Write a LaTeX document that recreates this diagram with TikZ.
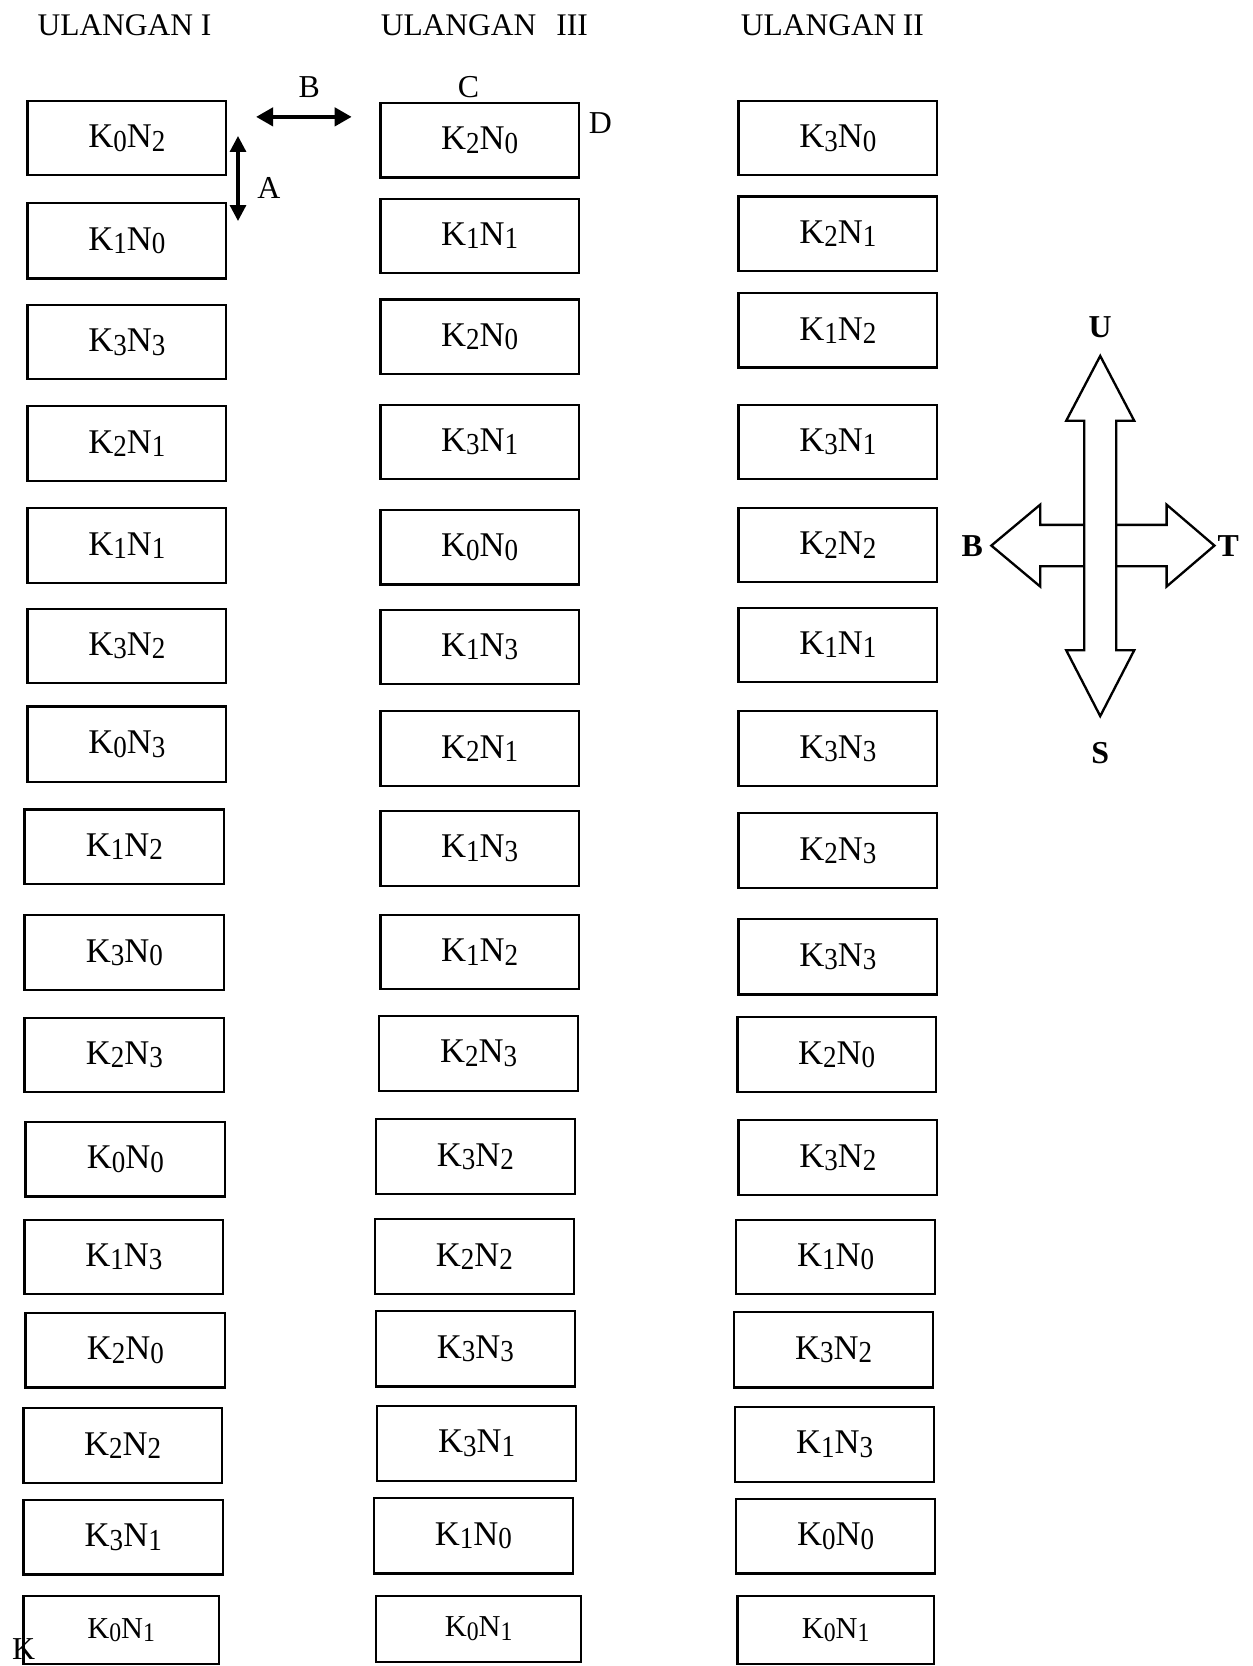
\documentclass[tikz,border=0pt]{standalone}
\usepackage{fontspec}
\setmainfont{Liberation Serif}
\usetikzlibrary{arrows.meta}
\newcommand\sbs[1]{\raisebox{-1.6pt}{\scalebox{0.78}[0.88]{#1}}}
\newcommand\kn[2]{K\sbs{#1}N\sbs{#2}}
\newcommand\cell[7][]{\node[cellbox,#1, minimum width={(#4-#3)*0.5pt}, minimum height={(#6-#5)*0.5pt}] (#2) at ({(#3+#4)/2},{(#5+#6)/2}) {#7};}
\begin{document}
\begin{tikzpicture}[x=0.5pt,y=-0.5pt,
  cellbox/.style={draw, line width=1.1pt, inner sep=0pt, font=\fontsize{16.3}{19}\selectfont},
  small/.style={font=\fontsize{14.3}{17}\selectfont},
  head/.style={anchor=base west, inner sep=0pt, font=\fontsize{14.8}{18}\selectfont},
  lbl/.style={inner sep=0pt, font=\fontsize{15}{18}\selectfont},
  dir/.style={inner sep=0pt, font=\fontsize{15}{18}\selectfont\bfseries},
  compass/.style={line width=1.1pt, line join=miter}]
\useasboundingbox (0,0) rectangle (1179,1568);
% headers
\node[head] (h1) at (35,33) {ULANGAN I};
\node[head] (h3) at (358,33) {ULANGAN\hspace{9.5pt}III};
\node[head] (h2) at (697,33) {ULANGAN\hspace{3pt}II};
% column 1
\cell{a1}{26}{213}{95}{165}{\kn02}
\cell{a2}{26}{213}{191}{262}{\kn10}
\cell{a3}{26}{213}{287}{357}{\kn33}
\cell{a4}{26}{213}{382}{453}{\kn21}
\cell{a5}{26}{213}{478}{549}{\kn11}
\cell{a6}{26}{213}{573}{643}{\kn32}
\cell{a7}{26}{213}{665}{736}{\kn03}
\cell{a8}{23}{211}{762}{832}{\kn12}
\cell{a9}{23}{211}{861}{932}{\kn30}
\cell{a10}{23}{211}{958}{1028}{\kn23}
\cell{a11}{24}{212}{1056}{1126}{\kn00}
\cell{a12}{23}{210}{1148}{1218}{\kn13}
\cell{a13}{24}{212}{1236}{1306}{\kn20}
\cell{a14}{22}{209}{1325}{1396}{\kn22}
\cell{a15}{22}{210}{1412}{1482}{\kn31}
\cell[small]{a16}{22}{206}{1502}{1566}{\kn01}
% column 2
\cell{b1}{358}{545}{97}{167}{\kn20}
\cell{b2}{358}{545}{187}{257}{\kn11}
\cell{b3}{358}{545}{282}{352}{\kn20}
\cell{b4}{358}{545}{381}{451}{\kn31}
\cell{b5}{358}{545}{480}{550}{\kn00}
\cell{b6}{358}{545}{574}{644}{\kn13}
\cell{b7}{358}{545}{669}{740}{\kn21}
\cell{b8}{358}{545}{763}{834}{\kn13}
\cell{b9}{358}{545}{861}{931}{\kn12}
\cell{b10}{357}{544}{956}{1027}{\kn23}
\cell{b11}{354}{541}{1053}{1124}{\kn32}
\cell{b12}{353}{540}{1147}{1218}{\kn22}
\cell{b13}{354}{541}{1234}{1305}{\kn33}
\cell{b14}{355}{542}{1323}{1394}{\kn31}
\cell{b15}{352}{539}{1410}{1481}{\kn10}
\cell[small]{b16}{354}{547}{1502}{1564}{\kn01}
% column 3
\cell{c1}{695}{882}{95}{165}{\kn30}
\cell{c2}{695}{882}{185}{255}{\kn21}
\cell{c3}{695}{882}{276}{346}{\kn12}
\cell{c4}{695}{882}{381}{451}{\kn31}
\cell{c5}{695}{882}{478}{548}{\kn22}
\cell{c6}{695}{882}{572}{642}{\kn11}
\cell{c7}{695}{882}{669}{740}{\kn33}
\cell{c8}{695}{882}{765}{836}{\kn23}
\cell{c9}{695}{882}{865}{936}{\kn33}
\cell{c10}{694}{881}{957}{1028}{\kn20}
\cell{c11}{695}{882}{1054}{1125}{\kn32}
\cell{c12}{693}{880}{1148}{1218}{\kn10}
\cell{c13}{691}{878}{1235}{1306}{\kn32}
\cell{c14}{692}{879}{1324}{1395}{\kn13}
\cell{c15}{693}{880}{1411}{1481}{\kn00}
\cell[small]{c16}{694}{879}{1502}{1566}{\kn01}
% A, B, C, D markers
\coordinate (bL) at (241,110);
\coordinate (bR) at (331,110);
\coordinate (aT) at (224,128);
\coordinate (aB) at (224,208);
\draw[line width=1.9pt, {Triangle[length=8pt,width=8.5pt]}-{Triangle[length=8pt,width=8.5pt]}] (bL) -- (bR);
\draw[line width=1.5pt, {Triangle[length=7.5pt,width=7.5pt]}-{Triangle[length=7.5pt,width=7.5pt]}] (aT) -- (aB);
\node[lbl] (lB) at (291,82) {B};
\node[lbl] (lC) at (441,82) {C};
\node[lbl] (lD) at (565,116) {D};
\node[lbl] (lA) at (253,177) {A};
% compass
\draw[compass] (1020.5,396) -- (1003.5,396) -- (1035.5,335) -- (1067.5,396) -- (1050.5,396)
  -- (1050.5,612) -- (1067.5,612) -- (1035.5,674) -- (1003.5,612) -- (1020.5,612) -- cycle;
\draw[compass] (1020.5,494) -- (979,494) -- (979,475) -- (933,513.5) -- (979,552) -- (979,533) -- (1020.5,533);
\draw[compass] (1050.5,494) -- (1098,494) -- (1098,475) -- (1143,513.5) -- (1098,552) -- (1098,533) -- (1050.5,533);
\node[dir] (U) at (1035.5,308) {U};
\node[dir] (S) at (1035.5,709) {S};
\node[dir] (W) at (915,514) {B};
\node[dir] (T) at (1156,514) {T};
% text at the bottom edge
\node[anchor=base west, inner sep=0pt, font=\fontsize{15}{18}\selectfont] (k) at (11,1562) {K};
\end{tikzpicture}
\end{document}
